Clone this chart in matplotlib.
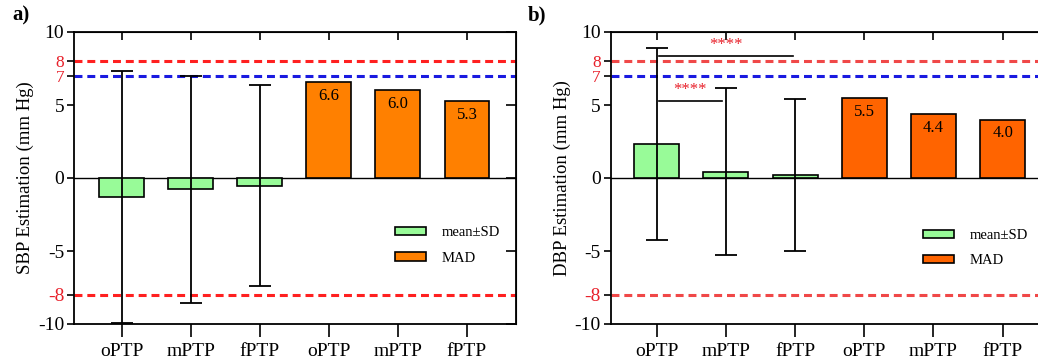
import matplotlib.pyplot as plt
from matplotlib.patches import Patch

plt.rcParams['font.family'] = ['Liberation Serif', 'DejaVu Serif']

categorias = ['oPTP', 'mPTP', 'fPTP', 'oPTP', 'mPTP', 'fPTP']

# panel a (SBP)
sbp_media = [-1.3, -0.78, -0.53]
sbp_sd = [8.6, 7.8, 6.9]
sbp_mad = [6.6, 6.0, 5.3]

# panel b (DBP)
dbp_media = [2.33, 0.43, 0.18]
dbp_sd = [6.55, 5.72, 5.2]
dbp_mad = [5.5, 4.4, 4.0]

# lineas de significancia (x0, x1, y, texto)
sig_lineas = [(0.03, 1.97, 8.38, '****'), (0.03, 0.94, 5.3, '****')]

verde = '#98fb98'
naranja_a = '#ff8000'
naranja_b = '#ff6400'


def dibujar(ax, media, sd, mad, naranja, rojo, ylabel, xlim):
    x_g = [0, 1, 2]
    x_m = [3, 4, 5]
    ax.bar(x_g, media, width=0.65, color=verde, edgecolor='black', linewidth=1.2, zorder=3)
    ax.errorbar(x_g, media, yerr=sd, fmt='none', ecolor='black', elinewidth=1.3,
                capsize=8, capthick=1.3, zorder=4)
    ax.bar(x_m, mad, width=0.65, color=naranja, edgecolor='black', linewidth=1.2, zorder=3)
    for xi, v in zip(x_m, mad):
        ax.annotate('%.1f' % v, (xi, v), xytext=(0, -10), textcoords='offset points',
                    ha='center', va='center', fontsize=12, zorder=5)
    ax.axhline(0, color='black', lw=1.0, zorder=2)
    ax.axhline(8, color=rojo, lw=2.2, ls=(0, (2.6, 1.6)), zorder=1)
    ax.axhline(-8, color=rojo, lw=2.2, ls=(0, (2.6, 1.6)), zorder=1)
    ax.axhline(7, color='#1a1ae0', lw=2.2, ls=(0, (2.6, 1.6)), zorder=1)

    ax.set_xlim(*xlim)
    ax.set_ylim(-10, 10)
    yt = [10, 8, 7, 5, 0, -5, -8, -10]
    ax.set_yticks(yt)
    ax.set_yticklabels([str(v) for v in yt], fontsize=14)
    for lab, v in zip(ax.get_yticklabels(), yt):
        if v in (8, 7, -8):
            lab.set_color('#e8202a')
            if v != -8:
                lab.set_fontsize(12.5)
    ax.set_xticks(range(6))
    ax.set_xticklabels(categorias, fontsize=14)
    ax.tick_params(axis='y', direction='out', length=5, width=1.2, pad=2)
    ax.tick_params(axis='x', direction='out', length=9, width=1.2, pad=5)
    ax.set_ylabel(ylabel, fontsize=13.5, labelpad=3)
    for s in ax.spines.values():
        s.set_linewidth(1.3)

    # ticks internos arriba y a la derecha
    arriba = ax.secondary_xaxis('top')
    arriba.set_xticks(range(6))
    arriba.set_xticklabels([])
    arriba.tick_params(direction='in', length=6, width=1.2)
    der = ax.secondary_yaxis('right')
    der.set_yticks([10, 5, 0, -5, -10])
    der.set_yticklabels([])
    der.tick_params(direction='in', length=7, width=1.2)


fig = plt.figure(figsize=(10.38, 3.63), dpi=100)

ax1 = fig.add_axes([74 / 1038, 39 / 363, 442 / 1038, 292 / 363])
dibujar(ax1, sbp_media, sbp_sd, sbp_mad, naranja_a, '#ff2020',
        'SBP Estimation (mm Hg)', (-0.69, 5.71))
ax1.legend(handles=[Patch(facecolor=verde, edgecolor='black', lw=1.2, label='mean\u00b1SD'),
                    Patch(facecolor=naranja_a, edgecolor='black', lw=1.2, label='MAD')],
           loc='upper left', bbox_to_anchor=(0.726, 0.335), frameon=False, fontsize=10.5,
           handlelength=2.1, handleheight=0.5, handletextpad=1.1, labelspacing=0.85,
           borderpad=0, borderaxespad=0)

ax2 = fig.add_axes([610.7 / 1038, 39 / 363, 438 / 1038, 292 / 363])
dibujar(ax2, dbp_media, dbp_sd, dbp_mad, naranja_b, '#f04848',
        'DBP Estimation (mm Hg)', (-0.665, 5.665))
for x0, x1, y, txt in sig_lineas:
    ax2.plot([x0, x1], [y, y], color='black', lw=1.2, zorder=4)
    ax2.text((x0 + x1) / 2, y + 0.15, txt, color='#e8202a', fontsize=12,
             ha='center', va='bottom', zorder=5)
ax2.legend(handles=[Patch(facecolor=verde, edgecolor='black', lw=1.2, label='mean\u00b1SD'),
                    Patch(facecolor=naranja_b, edgecolor='black', lw=1.2, label='MAD')],
           loc='upper left', bbox_to_anchor=(0.713, 0.325), frameon=False, fontsize=10.5,
           handlelength=2.1, handleheight=0.5, handletextpad=1.1, labelspacing=0.85,
           borderpad=0, borderaxespad=0)

fig.text(12 / 1038, 1 - 15 / 363, 'a)', fontsize=15, fontweight='bold', va='center')
fig.text(528 / 1038, 1 - 15 / 363, 'b)', fontsize=15, fontweight='bold', va='center')

fig.savefig('out.png', dpi=100)
